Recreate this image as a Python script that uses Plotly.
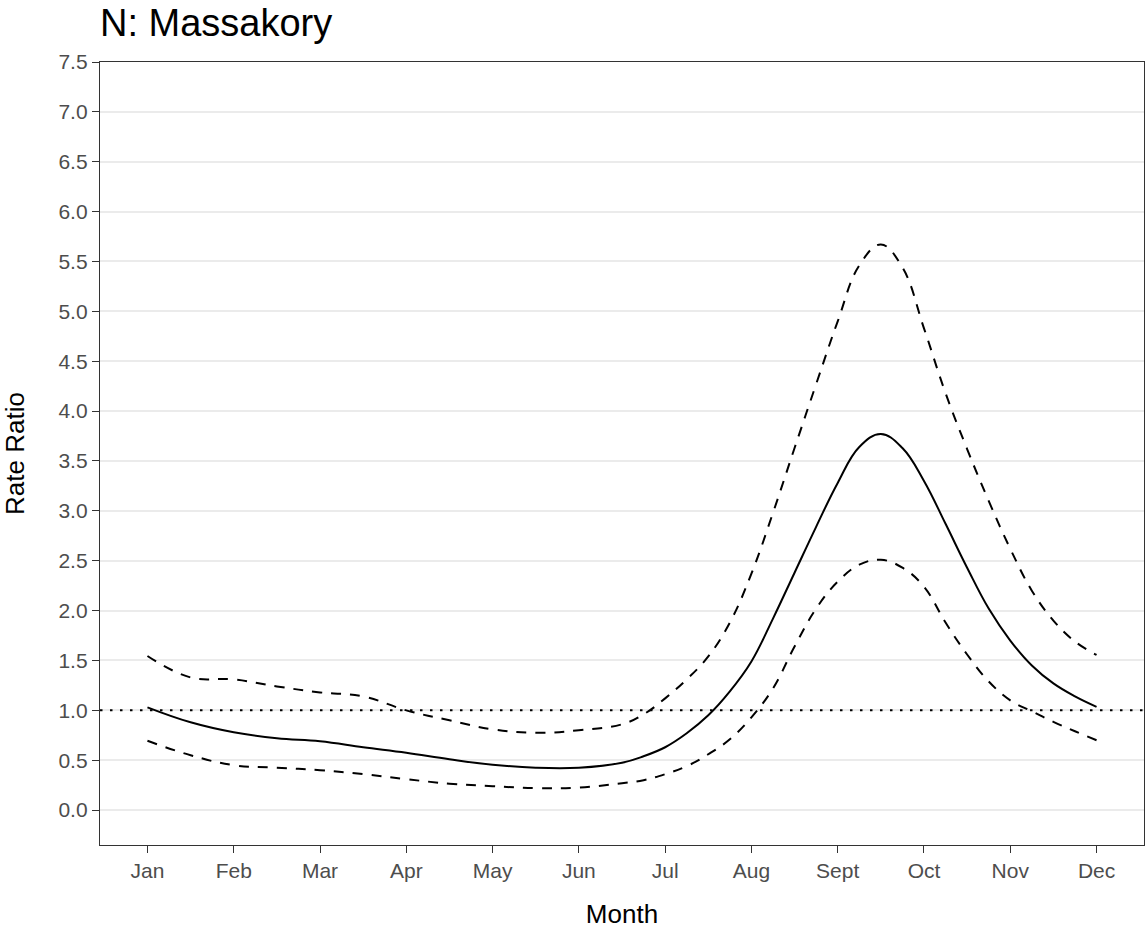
import plotly.graph_objects as go

# Month positions (1 = Jan ... 12 = Dec)
month_pos = [1, 1.5, 2, 2.5, 3, 3.5, 4, 4.5, 5, 5.5, 6, 6.5,
             6.75, 7, 7.25, 7.5, 7.75, 8, 8.25, 8.5, 8.75, 9, 9.25, 9.5, 9.75,
             10, 10.25, 10.5, 10.75, 11, 11.25, 11.5, 11.75, 12]

rate_ratio = [1.03, 0.88, 0.78, 0.72, 0.69, 0.63, 0.575, 0.51, 0.455, 0.425, 0.425, 0.475,
              0.54, 0.63, 0.77, 0.95, 1.19, 1.49, 1.92, 2.38, 2.84, 3.28, 3.64, 3.77, 3.63,
              3.30, 2.87, 2.43, 2.02, 1.70, 1.45, 1.27, 1.14, 1.035]

ci_upper = [1.545, 1.33, 1.31, 1.24, 1.18, 1.14, 1.00, 0.90, 0.81, 0.775, 0.80, 0.86,
            0.96, 1.12, 1.31, 1.54, 1.88, 2.37, 2.98, 3.63, 4.27, 4.90, 5.46, 5.67, 5.44,
            4.83, 4.18, 3.62, 3.10, 2.62, 2.20, 1.90, 1.69, 1.555]

ci_lower = [0.695, 0.55, 0.45, 0.425, 0.40, 0.36, 0.31, 0.265, 0.24, 0.22, 0.225, 0.27,
            0.30, 0.36, 0.44, 0.56, 0.71, 0.93, 1.22, 1.64, 2.02, 2.29, 2.46, 2.51, 2.43,
            2.24, 1.88, 1.56, 1.29, 1.10, 0.99, 0.885, 0.79, 0.70]

tick_vals = list(range(1, 13))
tick_text = ["Jan", "Feb", "Mar", "Apr", "May", "Jun", "Jul", "Aug", "Sept", "Oct", "Nov", "Dec"]
y_ticks = [i * 0.5 for i in range(16)]
reference_level = 1.0

FONT = "Liberation Sans, Arial, sans-serif"

fig = go.Figure()

line_common = dict(color="black", width=2, shape="spline", smoothing=1.15)

fig.add_trace(go.Scatter(x=month_pos, y=ci_upper, mode="lines",
                         line=dict(line_common, dash="10px,9px"),
                         showlegend=False, hoverinfo="skip"))
fig.add_trace(go.Scatter(x=month_pos, y=ci_lower, mode="lines",
                         line=dict(line_common, dash="10px,9px"),
                         showlegend=False, hoverinfo="skip"))
fig.add_trace(go.Scatter(x=month_pos, y=rate_ratio, mode="lines",
                         line=line_common, showlegend=False))

fig.add_shape(type="line", xref="paper", x0=0, x1=1, yref="y",
              y0=reference_level, y1=reference_level,
              line=dict(color="black", width=2, dash="2.5px,7.5px"))

fig.update_layout(
    width=1145, height=929,
    margin=dict(l=100, r=1, t=62, b=84),
    paper_bgcolor="white", plot_bgcolor="white",
    title=dict(text="N: Massakory", x=100 / 1145, xanchor="left", xref="container",
               y=1 - 9 / 929, yanchor="top", yref="container",
               font=dict(family=FONT, size=38, color="black")),
    font=dict(family=FONT),
)

fig.update_xaxes(
    range=[0.45, 12.55], tickmode="array", tickvals=tick_vals, ticktext=tick_text,
    showgrid=False, zeroline=False,
    ticks="outside", ticklen=7, tickwidth=1.3, tickcolor="#333333",
    tickfont=dict(family=FONT, size=21, color="#4D4D4D"),
    showline=True, linecolor="#333333", linewidth=1.3, mirror=True,
    title=dict(text="Month", font=dict(family=FONT, size=26, color="black"), standoff=24),
)
fig.update_yaxes(
    range=[-0.35, 7.5], tickmode="array", tickvals=y_ticks,
    ticktext=[f"{v:.1f}" for v in y_ticks],
    showgrid=True, gridcolor="#EBEBEB", gridwidth=1.5, zeroline=False,
    ticks="outside", ticklen=7, tickwidth=1.3, tickcolor="#333333",
    tickfont=dict(family=FONT, size=21, color="#4D4D4D"),
    showline=True, linecolor="#333333", linewidth=1.3, mirror=True,
    title=dict(text="Rate Ratio", font=dict(family=FONT, size=26, color="black"), standoff=26),
)

fig.write_html("out.html")
